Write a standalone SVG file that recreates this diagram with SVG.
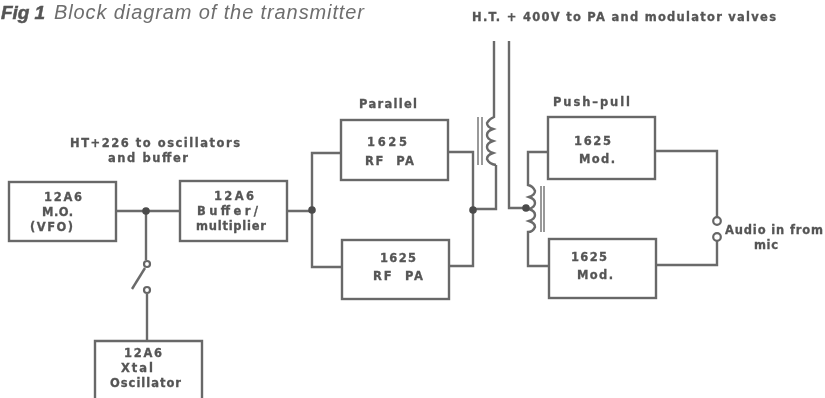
<svg xmlns="http://www.w3.org/2000/svg" width="825" height="398" viewBox="0 0 825 398">
<defs>
<filter id="soft" x="-5%" y="-5%" width="110%" height="110%"><feGaussianBlur stdDeviation="0.55"/></filter>
<style>
.box{fill:none;stroke:#686868;stroke-width:2.4}
.ln{fill:none;stroke:#6a6a6a;stroke-width:2.4}
.thin{fill:none;stroke:#808080;stroke-width:1.6}
.dot{fill:#4c4c4c}
.term{fill:#fff;stroke:#666;stroke-width:2.2}
text{font-family:"DejaVu Sans",Verdana,sans-serif;font-weight:700;font-size:11.5px;fill:#555;stroke:#555;stroke-width:.3}
.cap{font-family:"Liberation Sans",Arial,sans-serif;font-style:italic;font-weight:400;font-size:20px;fill:#6e6e6e;stroke:none}
.fig{font-family:"Liberation Sans",Arial,sans-serif;font-style:italic;font-weight:700;font-size:19px;fill:#555;stroke:#555;stroke-width:.5}
</style>
</defs>
<rect width="825" height="398" fill="#fff"/>
<g filter="url(#soft)">
<g id="caption">
<text class="fig" x="1" y="19" textLength="44">Fig 1</text>
<text class="cap" x="54" y="19" textLength="310">Block diagram of the transmitter</text>
</g>
<g id="connectors">
<path class="ln" d="M116 211H180"/>
<path class="ln" d="M146 211V260"/>
<path class="ln" d="M145 268L132 289"/>
<path class="ln" d="M147 294V341"/>
<path class="ln" d="M287 211H312M341 153H312V267H342"/>
<path class="ln" d="M448 152H473V266H449"/>
<path class="ln" d="M473 209H496V165"/>
<path class="ln" d="M494 41V117Q489 119 487 123Q487 127 493 129Q487 131 487 135Q487 139 493 141Q487 143 487 147Q487 151 493 153Q487 155 487 159Q489 164 496 165"/>
<path class="thin" d="M478 117V165M482 117V165"/>
<path class="ln" d="M509 41V208H527"/>
<path class="ln" d="M548 152H528V185Q533 186 535 191Q535 195 529 197Q535 199 535 203Q535 207 529 209Q535 211 535 215Q535 219 529 221Q535 223 535 227Q533 232 528 232V266H549"/>
<path class="thin" d="M541 186V232M544 186V232"/>
<path class="ln" d="M655 151H717V217M717 241V265H656"/>
<circle class="dot" cx="146" cy="211" r="3.8"/>
<circle class="dot" cx="312" cy="210" r="3.8"/>
<circle class="dot" cx="473" cy="210" r="3.8"/>
<circle class="dot" cx="526" cy="208" r="3.8"/>
<circle class="term" cx="147" cy="264" r="3"/>
<circle class="term" cx="147" cy="290" r="3"/>
<circle class="term" cx="717" cy="221" r="3.8"/>
<circle class="term" cx="717" cy="237" r="3.8"/>
</g>
<g id="mo"><rect class="box" x="9" y="182" width="107" height="59"/>
<text x="44" y="201" textLength="38">12A6</text><text x="42" y="216" textLength="31">M.O.</text><text x="30" y="231" textLength="43">(VFO)</text></g>
<g id="buffer"><rect class="box" x="180" y="181" width="107" height="60"/>
<text x="214" y="200" textLength="40">12A6</text><text x="197" y="215" textLength="61">Buffer/</text><text x="196" y="230" textLength="70">multiplier</text></g>
<g id="xtal"><path class="box" d="M95 398V341H202V398"/>
<text x="124" y="357" textLength="38">12A6</text><text x="121" y="372" textLength="32">Xtal</text><text x="110" y="387" textLength="71">Oscillator</text></g>
<g id="pa1"><rect class="box" x="341" y="120" width="107" height="60"/>
<text x="367" y="146" textLength="40">1625</text><text x="365" y="165" textLength="49" xml:space="preserve">RF  PA</text></g>
<g id="pa2"><rect class="box" x="342" y="240" width="107" height="59"/>
<text x="380" y="262" textLength="36">1625</text><text x="373" y="280" textLength="50" xml:space="preserve">RF  PA</text></g>
<g id="mod1"><rect class="box" x="548" y="117" width="107" height="62"/>
<text x="574" y="145" textLength="37">1625</text><text x="579" y="163" textLength="36">Mod.</text></g>
<g id="mod2"><rect class="box" x="549" y="239" width="107" height="59"/>
<text x="571" y="261" textLength="36">1625</text><text x="577" y="279" textLength="36">Mod.</text></g>
<g id="labels">
<text x="70" y="147" textLength="170">HT+226 to oscillators</text>
<text x="108" y="162" textLength="80">and buffer</text>
<text x="359" y="108" textLength="58">Parallel</text>
<text x="553" y="106" textLength="77">Push–pull</text>
<text x="472" y="21" textLength="304">H.T. + 400V to PA and modulator valves</text>
<text x="725" y="234" textLength="98">Audio in from</text>
<text x="754" y="249" textLength="24">mic</text>
</g>
</g>
</svg>
